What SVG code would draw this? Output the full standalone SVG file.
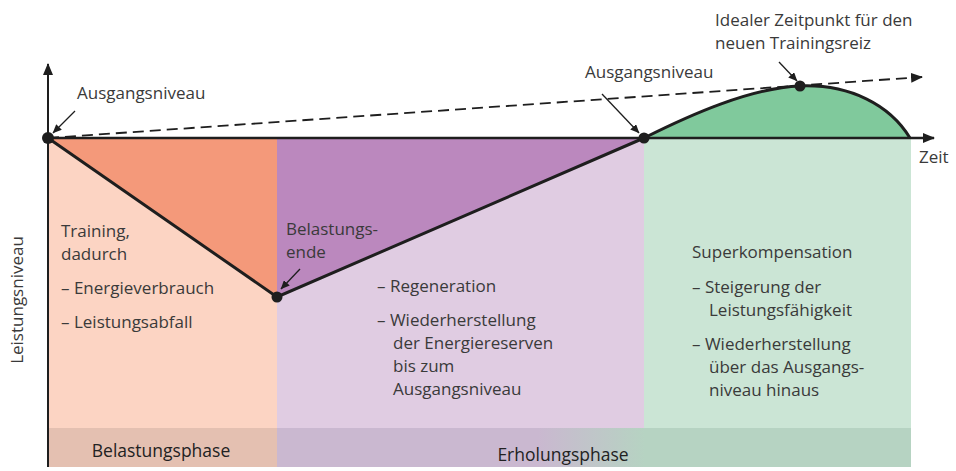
<svg xmlns="http://www.w3.org/2000/svg" width="956" height="471" viewBox="0 0 956 471">
<style>
text{font-family:"Open Sans","Noto Sans","Liberation Sans",sans-serif;font-size:17px;fill:#3a3a3a}
.bar{font-size:17.5px;fill:#222}
.ln{stroke:#1e1e1e;fill:none}
</style>
<defs>
<marker id="ah" markerWidth="12" markerHeight="10" refX="11" refY="5" orient="auto" markerUnits="userSpaceOnUse"><path d="M0,0 L12,5 L0,10 z" fill="#1e1e1e"/></marker>
<marker id="sa" markerWidth="9" markerHeight="8" refX="8.5" refY="4" orient="auto" markerUnits="userSpaceOnUse"><path d="M0,0 L9,4 L0,8 z" fill="#1e1e1e"/></marker>
<linearGradient id="gbar" x1="0" x2="1" y1="0" y2="0"><stop offset="0" stop-color="#cab8d0"/><stop offset="1" stop-color="#b6d3c2"/></linearGradient>
</defs>
<g id="regions">
<rect x="48" y="138" width="229" height="290" fill="#fcd4c3"/>
<rect x="277" y="138" width="367" height="290" fill="#e0cce2"/>
<rect x="644" y="138" width="267" height="290" fill="#cbe5d5"/>
<path d="M48,138 L277,138 L277,297 Z" fill="#f4997a"/>
<path d="M277,138 L644,138 L277,297 Z" fill="#bb88be"/>
<path d="M644,138 C690,115 750,88 800,86 C850,84 890,105 910,138 Z" fill="#80c99c"/>
</g>
<g id="phase-bar">
<rect x="48" y="428" width="229" height="39" fill="#e4c0b1"/>
<rect x="277" y="428" width="262" height="39" fill="#cab8d0"/>
<rect x="538" y="428" width="107" height="39" fill="url(#gbar)"/>
<rect x="644" y="428" width="267" height="39" fill="#b6d3c2"/>
<text class="bar" x="161" y="457" text-anchor="middle">Belastungsphase</text>
<text class="bar" x="563" y="461" text-anchor="middle">Erholungsphase</text>
</g>
<g id="connectors">
<line class="ln" x1="48" y1="467" x2="48" y2="64" stroke-width="2" marker-end="url(#ah)"/>
<line class="ln" x1="48" y1="138" x2="934" y2="138" stroke-width="2.5" marker-end="url(#ah)"/>
<line class="ln" x1="48" y1="138" x2="922" y2="77" stroke-width="1.8" stroke-dasharray="11,6" marker-end="url(#ah)"/>
<path class="ln" d="M48,138 L277,297 L644,138" stroke-width="3"/>
<path class="ln" d="M644,138 C690,115 750,88 800,86 C850,84 890,105 910,138" stroke-width="3"/>
<line class="ln" x1="75" y1="111" x2="53" y2="133" stroke-width="1.3" marker-end="url(#sa)"/>
<line class="ln" x1="602" y1="94" x2="639" y2="133" stroke-width="1.3" marker-end="url(#sa)"/>
<line class="ln" x1="779" y1="62" x2="797" y2="81" stroke-width="1.3" marker-end="url(#sa)"/>
<line class="ln" x1="300" y1="269" x2="281" y2="289" stroke-width="1.3" marker-end="url(#sa)"/>
</g>
<g id="points" fill="#1e1e1e">
<circle cx="48" cy="138" r="6"/>
<circle cx="277" cy="297" r="5.5"/>
<circle cx="644" cy="138" r="5.5"/>
<circle cx="800" cy="86" r="5.5"/>
</g>
<g id="labels">
<text x="77" y="99">Ausgangsniveau</text>
<text x="585" y="78">Ausgangsniveau</text>
<text x="715" y="26">Idealer Zeitpunkt für den</text>
<text x="715" y="49">neuen Trainingsreiz</text>
<text x="919" y="163">Zeit</text>
<text x="23" y="300" text-anchor="middle" transform="rotate(-90 23 300)">Leistungsniveau</text>
</g>
<g id="text-belastung">
<text x="61" y="237">Training,</text>
<text x="61" y="260">dadurch</text>
<text x="61" y="294">– Energieverbrauch</text>
<text x="61" y="328">– Leistungsabfall</text>
</g>
<g id="text-belastungsende">
<text x="286" y="235">Belastungs-</text>
<text x="286" y="258">ende</text>
</g>
<g id="text-erholung">
<text x="377" y="292">– Regeneration</text>
<text x="377" y="326">– Wiederherstellung</text>
<text x="393" y="349">der Energiereserven</text>
<text x="393" y="372">bis zum</text>
<text x="393" y="395">Ausgangsniveau</text>
</g>
<g id="text-superkompensation">
<text x="692" y="258">Superkompensation</text>
<text x="692" y="293">– Steigerung der</text>
<text x="709" y="316">Leistungsfähigkeit</text>
<text x="692" y="350">– Wiederherstellung</text>
<text x="709" y="373">über das Ausgangs-</text>
<text x="709" y="396">niveau hinaus</text>
</g>
</svg>
